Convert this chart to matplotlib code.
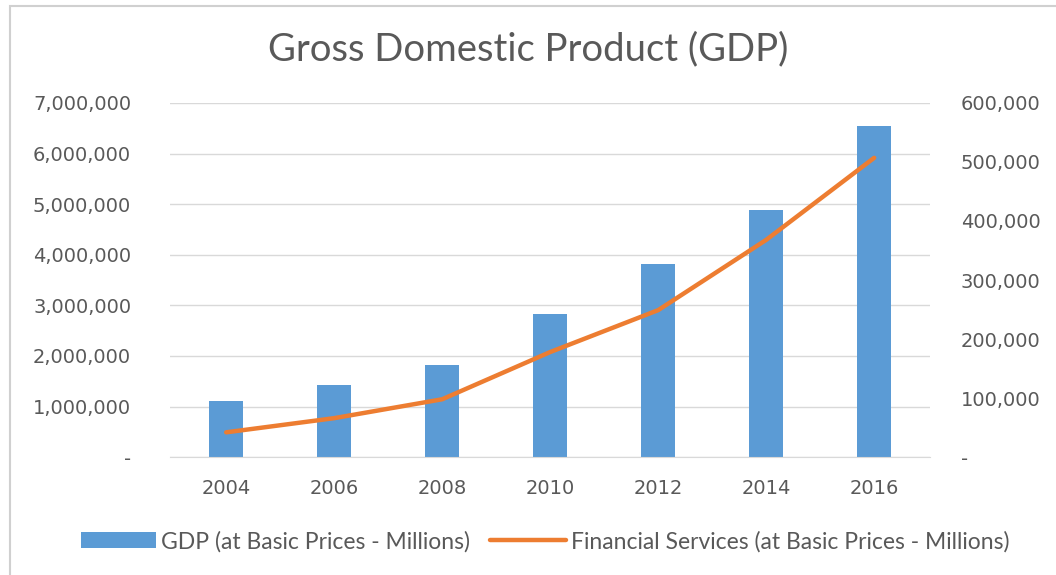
import matplotlib.pyplot as plt
from matplotlib.patches import Rectangle
from matplotlib.ticker import FuncFormatter

years = ['2004', '2006', '2008', '2010', '2012', '2014', '2016']
gdp = [1110000, 1420000, 1820000, 2830000, 3810000, 4880000, 6540000]
financial = [42000, 66000, 98000, 178000, 249000, 368000, 507000]

blue = '#5b9bd5'
orange = '#ed7d31'
grey = '#595959'


def fmt(v, pos):
    return '-' if v == 0 else '{:,.0f}'.format(v)


fig = plt.figure(figsize=(10.56, 5.75), dpi=100)
fig.patches.append(Rectangle((0.009, -0.01), 1.0, 1.0, transform=fig.transFigure,
                             fill=False, edgecolor='#d0d0d0', linewidth=1.5))

ax = fig.add_axes([0.161, 0.205, 0.72, 0.616])
ax2 = ax.twinx()

x = list(range(len(years)))
bars = ax.bar(x, gdp, width=0.32, color=blue, zorder=2,
              label='GDP (at Basic Prices - Millions)')
line, = ax2.plot(x, financial, color=orange, linewidth=3.2,
                 solid_capstyle='round',
                 label='Financial Services (at Basic Prices - Millions)')

ax.set_xlim(-0.52, 6.52)
ax.set_ylim(0, 7000000)
ax2.set_ylim(0, 600000)
ax.set_yticks(range(0, 7000001, 1000000))
ax2.set_yticks(range(0, 600001, 100000))
ax.yaxis.set_major_formatter(FuncFormatter(fmt))
ax2.yaxis.set_major_formatter(FuncFormatter(fmt))
ax.set_xticks(x)
ax.set_xticklabels(years)

ax.grid(axis='y', color='#d9d9d9', linewidth=1, zorder=0)
ax.set_axisbelow(True)
for a in (ax, ax2):
    for s in a.spines.values():
        s.set_visible(False)
    a.tick_params(length=0, labelsize=14, labelcolor=grey)
ax.spines['bottom'].set_visible(True)
ax.spines['bottom'].set_color('#d9d9d9')
ax.tick_params(axis='y', pad=28)
ax2.tick_params(axis='y', pad=22)
ax.tick_params(axis='x', pad=16)

fig.text(0.5, 0.915, 'Gross Domestic Product (GDP)', ha='center', va='center',
         fontsize=27.5, color=grey, family='Lato')

fig.legend([bars, line], [bars.get_label(), line.get_label()],
           loc='center', bbox_to_anchor=(0.516, 0.058), ncol=2, frameon=False,
           labelcolor=grey, handlelength=3.3, handletextpad=0.2,
           columnspacing=0.9, prop={'family': 'Lato', 'size': 16.5})

fig.savefig('out.png', dpi=100)
